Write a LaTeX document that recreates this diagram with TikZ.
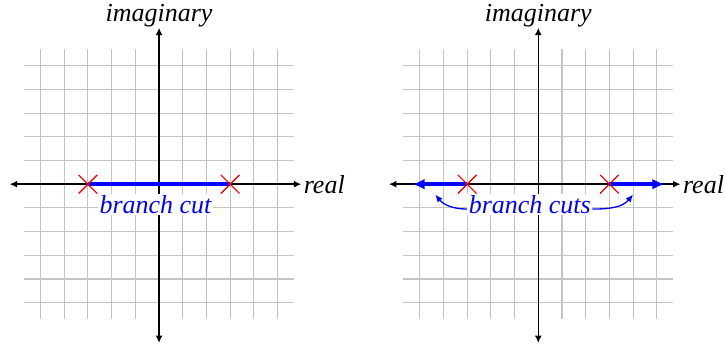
\documentclass[tikz,border=0pt]{standalone}
\usepackage{fontspec}
\setmainfont{Liberation Serif}
\newfontfamily\plotfont{Liberation Serif}
\usepackage{tikz}
\usepackage{xcolor}
\usetikzlibrary{arrows.meta, shapes.misc}
\definecolor{cutblue}{HTML}{0000FF}
\definecolor{gridgray}{HTML}{C4C4C4}

\begin{document}
\begin{tikzpicture}[
        x=10.95pt, y=10.95pt,
        font=\plotfont\itshape\fontsize{12}{14}\selectfont,
        gridline/.style={draw=gridgray, line width=0.5pt},
        axis/.style={line width=0.65pt, {Latex[length=3.4pt,width=3.2pt]}-{Latex[length=3.4pt,width=3.2pt]}},
        pole/.style={cross out, draw=red, line width=0.45pt, minimum size=8.1pt, inner sep=0pt},
        cutline/.style={draw=cutblue, line width=1.6pt},
        cutarrow/.style={cutline, -{Latex[length=5.5pt,width=5pt]}},
        cutlabel/.style={text=cutblue, fill=white, inner sep=0.6pt, anchor=base},
        pointer/.style={draw=cutblue, line width=0.6pt, -{Latex[length=3.5pt,width=3pt]}}
    ]
    \useasboundingbox (-6.71,-6.80) rectangle (23.92,7.77);

    % one branch cut between the two poles
    \begin{scope}
        \foreach \k in {-5,...,5} {
            \draw[gridline] (\k,-5.7) -- (\k,5.7);
            \draw[gridline] (-5.7,\k) -- (5.7,\k);
        }
        \coordinate (L west) at (-6.3,0);
        \coordinate (L east) at (6,0);
        \coordinate (L south) at (0,-6.7);
        \coordinate (L north) at (0,6.6);
        \draw[axis] (L west) -- (L east);
        \draw[axis] (L south) -- (L north);
        \node[anchor=west, inner sep=1pt] (L real) at (L east) {real};
        \node[anchor=south, inner sep=0pt] (L imag) at (L north) {imaginary};

        \node[pole] (L left) at (-3,0) {};
        \node[pole] (L right) at (3,0) {};
        \draw[cutline] (L left.center) -- (L right.center);
        \node[pole] at (L left.center) {};
        \node[pole] at (L right.center) {};
        \node[cutlabel] (L cut) at (-0.15,-1.24) {branch cut};
    \end{scope}

    % two branch cuts running out to infinity
    \begin{scope}[shift={(16,0)}]
        \foreach \k in {-5,...,5} {
            \draw[gridline] (\k,-5.7) -- (\k,5.7);
            \draw[gridline] (-5.7,\k) -- (5.7,\k);
        }
        \coordinate (R west) at (-6.3,0);
        \coordinate (R east) at (6,0);
        \coordinate (R south) at (0,-6.7);
        \coordinate (R north) at (0,6.6);
        \draw[axis] (R west) -- (R east);
        \draw[axis] (R south) -- (R north);
        \node[anchor=west, inner sep=1pt] (R real) at (R east) {real};
        \node[anchor=south, inner sep=0pt] (R imag) at (R north) {imaginary};

        \node[pole] (R left) at (-3,0) {};
        \node[pole] (R right) at (3,0) {};
        \coordinate (R far left) at (-5.3,0);
        \coordinate (R far right) at (5.32,0);
        \draw[cutarrow] (R left.center) -- (R far left);
        \draw[cutarrow] (R right.center) -- (R far right);
        \node[pole] at (R left.center) {};
        \node[pole] at (R right.center) {};

        \node[cutlabel] (R cut) at (-0.36,-1.24) {branch cuts};
        \coordinate (R tip left) at (-4.35,-0.44);
        \coordinate (R tip right) at (4.0,-0.44);
        \draw[pointer] ([yshift=-2pt]R cut.west) to[out=180, in=-50] (R tip left);
        \draw[pointer] ([yshift=-2pt]R cut.east) to[out=0, in=-130] (R tip right);
    \end{scope}
\end{tikzpicture}
\end{document}
